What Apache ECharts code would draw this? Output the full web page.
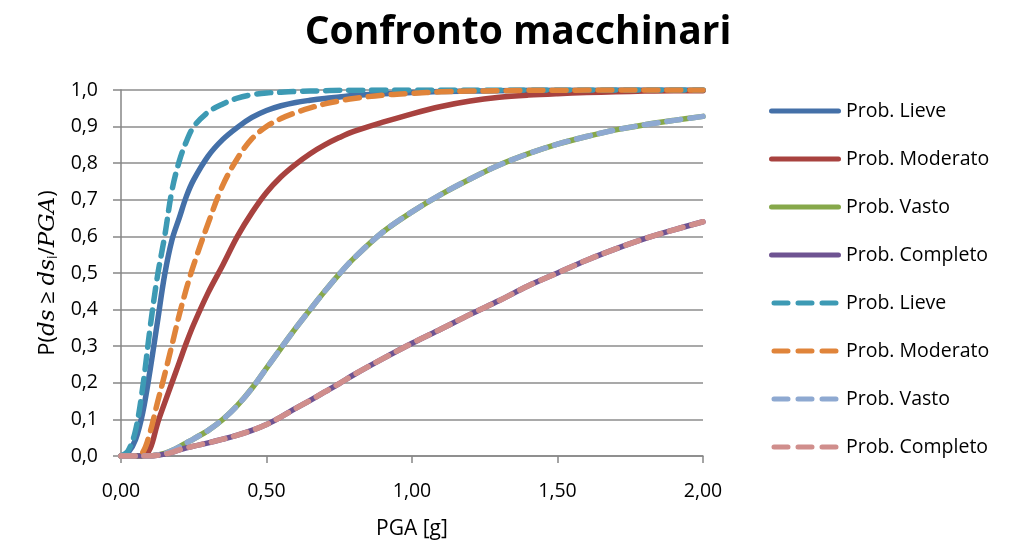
<!DOCTYPE html>
<html>
<head>
<meta charset="utf-8">
<script src="https://cdn.jsdelivr.net/npm/echarts@6/dist/echarts.min.js"></script>
<style>
html,body{margin:0;padding:0;background:#fff;}
#chart{width:1025px;height:550px;}
</style>
</head>
<body>
<div id="chart"></div>
<script>
// PGA [g] sample points
const pga = [0, 0.025, 0.05, 0.075, 0.1, 0.125, 0.15, 0.175, 0.2, 0.225, 0.25, 0.3, 0.35, 0.4, 0.45, 0.5, 0.55, 0.6, 0.65, 0.7, 0.75, 0.8, 0.9, 1.0, 1.1, 1.2, 1.3, 1.4, 1.5, 1.6, 1.7, 1.8, 1.9, 2.0];

const lieveA    = [0, 0.01, 0.045, 0.12, 0.235, 0.365, 0.495, 0.59, 0.65, 0.71, 0.755, 0.82, 0.865, 0.898, 0.925, 0.944, 0.957, 0.966, 0.972, 0.977, 0.981, 0.985, 0.99, 0.993, 0.996, 0.997, 0.998, 0.999, 0.999, 0.999, 1.0, 1.0, 1.0, 1.0];
const moderatoA = [0, 0, 0, 0, 0.02, 0.088, 0.145, 0.2, 0.255, 0.31, 0.36, 0.447, 0.522, 0.6, 0.665, 0.72, 0.763, 0.797, 0.826, 0.85, 0.87, 0.887, 0.912, 0.935, 0.955, 0.97, 0.98, 0.986, 0.99, 0.993, 0.995, 0.997, 0.998, 0.998];
const vastoA    = [0, 0, 0, 0, 0, 0.003, 0.007, 0.015, 0.025, 0.036, 0.047, 0.07, 0.1, 0.138, 0.185, 0.24, 0.295, 0.349, 0.4, 0.45, 0.497, 0.54, 0.612, 0.667, 0.715, 0.757, 0.795, 0.826, 0.852, 0.873, 0.891, 0.905, 0.917, 0.928];
const completoA = [0, 0, 0, 0, 0, 0.002, 0.005, 0.01, 0.017, 0.022, 0.027, 0.036, 0.046, 0.057, 0.07, 0.086, 0.107, 0.13, 0.152, 0.175, 0.198, 0.222, 0.266, 0.308, 0.347, 0.387, 0.425, 0.465, 0.5, 0.535, 0.566, 0.594, 0.618, 0.64];

const lieveB    = [0, 0.015, 0.07, 0.19, 0.35, 0.49, 0.6, 0.725, 0.805, 0.86, 0.9, 0.94, 0.962, 0.978, 0.987, 0.992, 0.994, 0.996, 0.997, 0.998, 0.999, 0.999, 1.0, 1.0, 1.0, 1.0, 1.0, 1.0, 1.0, 1.0, 1.0, 1.0, 1.0, 1.0];
const moderatoB = [0, 0, 0, 0.01, 0.065, 0.145, 0.222, 0.303, 0.385, 0.458, 0.523, 0.637, 0.74, 0.813, 0.867, 0.9, 0.922, 0.938, 0.951, 0.962, 0.97, 0.977, 0.986, 0.991, 0.995, 0.997, 0.998, 0.999, 0.999, 1.0, 1.0, 1.0, 1.0, 1.0];
const vastoB    = vastoA.slice();
const completoB = completoA.slice();

const names = ['Prob. Lieve', 'Prob. Moderato', 'Prob. Vasto', 'Prob. Completo', 'Prob. Lieve', 'Prob. Moderato', 'Prob. Vasto', 'Prob. Completo'];
const colors = ['#4470A8', '#A8423F', '#86A84A', '#6E5392', '#3D9AB4', '#E0843A', '#8EA9D1', '#D08E8C'];
const seriesData = [lieveA, moderatoA, vastoA, completoA, lieveB, moderatoB, vastoB, completoB];

const FONT = 'Open Sans';
const solidIcon = 'path://M2.5,0 H69.5 A2.5,2.5 0 0 1 69.5,5 H2.5 A2.5,2.5 0 0 1 2.5,0 Z';
const dashIcon = 'path://M2.5,0 H16.5 A2.5,2.5 0 0 1 16.5,5 H2.5 A2.5,2.5 0 0 1 2.5,0 Z M26.5,0 H40.5 A2.5,2.5 0 0 1 40.5,5 H26.5 A2.5,2.5 0 0 1 26.5,0 Z M50.5,0 H64.5 A2.5,2.5 0 0 1 64.5,5 H50.5 A2.5,2.5 0 0 1 50.5,0 Z';

const series = seriesData.map((vals, i) => ({
  name: names[i] + (i >= 4 ? ' ' : ''),
  type: 'line',
  smooth: 0.35,
  symbol: 'none',
  showSymbol: false,
  data: pga.map((x, k) => [x, vals[k]]),
  lineStyle: {
    color: colors[i],
    width: 5.5,
    type: i >= 4 ? [14, 9] : 'solid',
    cap: 'round',
    join: 'round'
  },
  itemStyle: { color: colors[i] },
  emphasis: { disabled: true },
  z: 2 + i
}));

const chart = echarts.init(document.getElementById('chart'), null, { renderer: 'canvas' });
chart.setOption({
  animation: false,
  backgroundColor: '#fff',
  title: {
    text: 'Confronto macchinari',
    left: 513, top: 8, textAlign: 'center',
    textStyle: { fontFamily: FONT, fontWeight: 'bold', fontSize: 39, color: '#000' }
  },
  grid: { left: 121, right: 322, top: 90, bottom: 94, containLabel: false },
  legend: {
    orient: 'vertical',
    left: 764, top: 96,
    itemWidth: 72, itemHeight: 5, itemGap: 28,
    textStyle: { fontFamily: FONT, fontSize: 19.5, color: '#000' },
    data: series.map((s, i) => ({ name: s.name, icon: i >= 4 ? dashIcon : solidIcon })),
    formatter: n => n.trim()
  },
  xAxis: {
    type: 'value', min: 0, max: 2, interval: 0.5,
    name: 'PGA [g]', nameLocation: 'middle', nameGap: 63,
    nameTextStyle: { fontFamily: FONT, fontSize: 21, color: '#000' },
    axisLine: { show: true, lineStyle: { color: '#868686', width: 1.5 } },
    axisTick: { show: true, inside: false, length: 7, lineStyle: { color: '#868686', width: 1.5 } },
    axisLabel: { fontFamily: FONT, fontSize: 19.5, color: '#000', margin: 25,
      formatter: v => v.toFixed(2).replace('.', ',') },
    splitLine: { show: false }
  },
  yAxis: {
    type: 'value', min: 0, max: 1, interval: 0.1,
    name: '{n|P(}{i|ds}{n| ≥ }{i|ds}{s|i}{n|/}{i|PGA}{n|)}',
    nameLocation: 'middle', nameGap: 60, nameRotate: 90,
    nameTextStyle: {
      fontFamily: FONT, fontSize: 22, color: '#000',
      rich: {
        n: { fontFamily: FONT, fontSize: 22, color: '#000' },
        i: { fontFamily: 'DejaVu Serif', fontStyle: 'italic', fontSize: 23, color: '#000' },
        s: { fontFamily: FONT, fontSize: 14, color: '#000', verticalAlign: 'bottom', padding: [10, 0, 0, 0] }
      }
    },
    axisLine: { show: true, lineStyle: { color: '#868686', width: 1.5 } },
    axisTick: { show: true, inside: false, length: 8, lineStyle: { color: '#868686', width: 1.5 } },
    axisLabel: { fontFamily: FONT, fontSize: 19.5, color: '#000', margin: 23,
      formatter: v => v.toFixed(1).replace('.', ',') },
    splitLine: { show: true, lineStyle: { color: '#8C8C8C', width: 1.5 } }
  },
  series: series
});
</script>
</body>
</html>
